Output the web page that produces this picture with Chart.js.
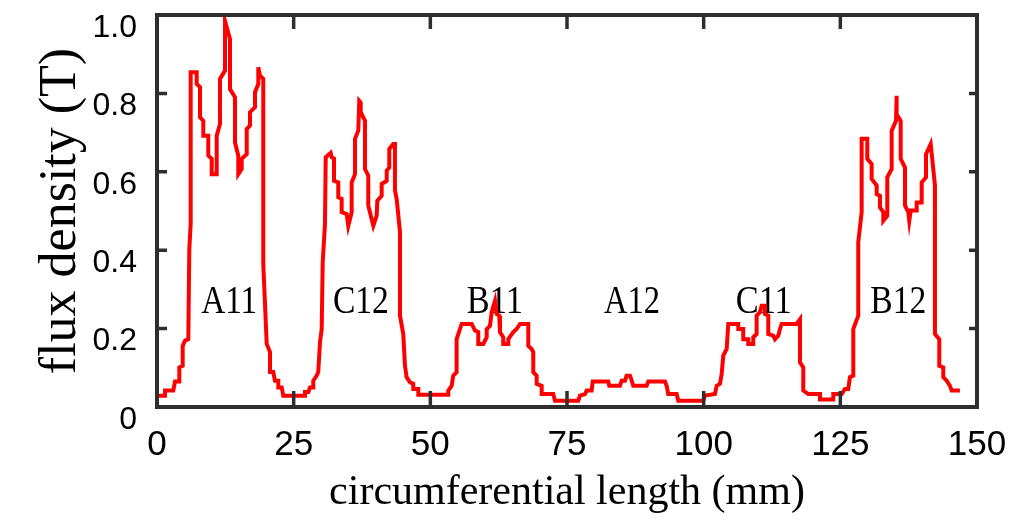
<!DOCTYPE html>
<html>
<head>
<meta charset="utf-8">
<script src="https://cdn.jsdelivr.net/npm/chart.js@4.4.0/dist/chart.umd.min.js"></script>
<style>
  html, body { margin: 0; padding: 0; background: #fff; }
  #wrap { width: 1023px; height: 527px; }
</style>
</head>
<body>
<div id="wrap"><canvas id="chart" width="1023" height="527"></canvas></div>
<script>
// circumferential position (mm) and flux density (T)
const lengthMm = [
  0, 1.46, 1.46, 2.98, 3.29, 4.08, 4.08, 4.70, 4.70, 5.12, 5.73, 5.91, 6.16, 6.16, 7.26, 7.26, 7.87, 7.87,
  8.47, 8.47, 9.38, 9.38, 10.01, 10.01, 10.92, 10.92, 11.52, 11.52, 12.44, 12.44, 13.35, 13.35, 14.27, 14.27,
  14.87, 14.87, 15.49, 15.49, 16.41, 16.41, 17.01, 17.01, 17.93, 17.93, 18.53, 18.53, 18.84, 19.44, 19.44,
  20.07, 20.67, 20.67, 21.27, 21.58, 22.19, 22.19, 22.81, 23.10, 27.07, 27.07, 27.68, 27.99, 28.59, 28.59,
  29.21, 29.50, 29.82, 30.13, 30.31, 30.73, 30.86, 31.77, 31.96, 32.38, 32.38, 33.16, 33.16, 33.78, 33.78,
  34.70, 34.99, 35.61, 35.61, 36.22, 36.22, 36.82, 37.00, 37.26, 37.26, 38.05, 38.05, 38.65, 38.65, 39.57,
  40.19, 40.30, 41.10, 41.10, 42.02, 42.02, 42.49, 42.49, 43.22, 43.53, 43.53, 43.84, 44.45, 44.45, 45.05,
  45.36, 45.66, 46.27, 46.88, 46.88, 47.80, 47.80, 53.28, 53.28, 53.90, 54.19, 54.81, 54.81, 55.73, 57.56,
  58.17, 58.77, 58.77, 59.69, 60.31, 60.31, 60.91, 61.22, 61.83, 62.14, 62.61, 62.74, 63.34, 63.34, 64.26,
  64.26, 65.17, 65.79, 66.40, 67.92, 67.92, 68.54, 68.83, 68.83, 69.45, 69.45, 70.37, 70.37, 72.49, 72.80,
  77.06, 77.37, 78.29, 78.60, 79.51, 79.70, 82.55, 82.73, 84.69, 85.00, 85.60, 85.91, 86.52, 86.83, 87.12,
  89.57, 89.87, 92.92, 93.23, 93.52, 95.06, 95.35, 99.93, 100.24, 102.07, 102.38, 102.98, 103.29, 103.59,
  104.21, 104.50, 106.33, 106.33, 107.24, 107.24, 108.16, 108.16, 109.07, 109.07, 109.69, 109.69, 110.30,
  110.61, 111.21, 111.21, 111.82, 111.82, 112.73, 113.04, 113.65, 113.96, 114.27, 117.01, 117.62, 117.62,
  118.22, 118.22, 119.14, 121.28, 121.28, 123.71, 123.71, 125.25, 125.85, 126.45, 126.76, 127.37, 127.37,
  128.28, 128.28, 128.90, 128.90, 129.93, 129.93, 130.73, 130.73, 131.65, 131.65, 132.25, 132.25, 132.86,
  132.86, 133.59, 133.59, 134.39, 134.39, 135.18, 135.30, 135.30, 136.04, 136.04, 136.83, 136.83, 137.43,
  137.61, 137.87, 138.97, 138.97, 139.88, 139.88, 140.67, 140.67, 141.53, 142.31, 142.31, 143.10, 143.10,
  143.83, 143.83, 144.45, 145.05, 145.36, 146.88
];
const fluxT = [
  0.029, 0.029, 0.042, 0.042, 0.065, 0.065, 0.101, 0.105, 0.156, 0.169, 0.173, 0.403, 0.467, 0.854, 0.854, 0.824, 0.816, 0.739,
  0.730, 0.692, 0.692, 0.641, 0.633, 0.594, 0.594, 0.692, 0.722, 0.837, 0.858, 0.985, 0.939, 0.811, 0.790, 0.675,
  0.641, 0.594, 0.607, 0.633, 0.645, 0.709, 0.718, 0.752, 0.765, 0.803, 0.824, 0.867, 0.845, 0.837, 0.365,
  0.161, 0.140, 0.089, 0.089, 0.067, 0.067, 0.050, 0.050, 0.029, 0.029, 0.038, 0.038, 0.050, 0.050, 0.067,
  0.080, 0.089, 0.166, 0.199, 0.369, 0.467, 0.637, 0.648, 0.637, 0.634, 0.577, 0.573, 0.535, 0.531, 0.497,
  0.492, 0.462, 0.497, 0.573, 0.594, 0.684, 0.705, 0.781, 0.777, 0.752, 0.730, 0.607, 0.590, 0.514, 0.462,
  0.488, 0.526, 0.539, 0.569, 0.577, 0.603, 0.611, 0.658, 0.671, 0.671, 0.552, 0.531, 0.446, 0.233, 0.186,
  0.105, 0.076, 0.063, 0.059, 0.046, 0.046, 0.031, 0.031, 0.042, 0.054, 0.080, 0.089, 0.173, 0.212, 0.212,
  0.195, 0.191, 0.161, 0.161, 0.178, 0.199, 0.207, 0.242, 0.271, 0.237, 0.233, 0.191, 0.178, 0.161, 0.161,
  0.173, 0.191, 0.199, 0.212, 0.212, 0.156, 0.148, 0.140, 0.089, 0.080, 0.059, 0.054, 0.033, 0.033, 0.016,
  0.016, 0.029, 0.033, 0.042, 0.042, 0.065, 0.065, 0.054, 0.054, 0.067, 0.067, 0.080, 0.080, 0.067, 0.054,
  0.054, 0.065, 0.065, 0.054, 0.033, 0.033, 0.016, 0.016, 0.029, 0.033, 0.054, 0.059, 0.084, 0.131,
  0.148, 0.212, 0.212, 0.199, 0.199, 0.173, 0.173, 0.161, 0.161, 0.178, 0.186, 0.233, 0.242,
  0.258, 0.258, 0.237, 0.233, 0.186, 0.182, 0.173, 0.182, 0.199, 0.212, 0.212, 0.224, 0.114,
  0.101, 0.042, 0.033, 0.033, 0.019, 0.019, 0.033, 0.033, 0.046, 0.046, 0.076, 0.080, 0.199,
  0.233, 0.420, 0.497, 0.684, 0.684, 0.633, 0.620, 0.582, 0.565, 0.543, 0.539, 0.509, 0.497,
  0.475, 0.488, 0.586, 0.607, 0.705, 0.730, 0.794, 0.747, 0.730, 0.633, 0.611, 0.514, 0.497,
  0.475, 0.501, 0.501, 0.522, 0.522, 0.573, 0.586, 0.645, 0.671, 0.565, 0.186, 0.173, 0.105,
  0.101, 0.076, 0.067, 0.054, 0.042, 0.042
];

const xTicks = [0, 25, 50, 75, 100, 125, 150];
const yTicks = [0, 0.2, 0.4, 0.6, 0.8, 1.0];

// coil region labels (position in mm, height in T)
const coilNames = ["A11", "C12", "B11", "A12", "C11", "B12"];
const coilX     = [13.2, 37.3, 61.8, 86.9, 111.0, 135.6];
const coilY     = 0.24;

const AXIS = "#2e2e2e";

// ── Frame + inward ticks ─────────────────────────────────────────────────────
const framePlugin = {
  id: "frame",
  afterDatasetsDraw(chart) {
    const { ctx, chartArea: a, scales: { x, y } } = chart;
    ctx.save();
    ctx.strokeStyle = AXIS;
    ctx.lineWidth = 3.5;
    ctx.beginPath();
    for (const v of xTicks.slice(1, -1)) {
      const px = x.getPixelForValue(v);
      ctx.moveTo(px, a.bottom); ctx.lineTo(px, a.bottom - 16);
      ctx.moveTo(px, a.top);    ctx.lineTo(px, a.top + 14);
    }
    for (const v of yTicks.slice(1, -1)) {
      const py = y.getPixelForValue(v);
      ctx.moveTo(a.left, py);  ctx.lineTo(a.left + 10, py);
      ctx.moveTo(a.right, py); ctx.lineTo(a.right - 8, py);
    }
    ctx.stroke();
    ctx.lineWidth = 4;
    ctx.lineJoin = "miter";
    ctx.strokeRect(a.left, a.top, a.right - a.left, a.bottom - a.top);
    ctx.restore();
  }
};

const coilLabelPlugin = {
  id: "coilLabels",
  beforeDatasetsDraw(chart) {
    const { ctx, scales: { x, y } } = chart;
    ctx.save();
    ctx.fillStyle = "#000";
    ctx.font = '40px "Liberation Serif", "Times New Roman", serif';
    ctx.textAlign = "center";
    ctx.textBaseline = "alphabetic";
    coilNames.forEach((name, i) => {
      ctx.fillText(name, x.getPixelForValue(coilX[i]), y.getPixelForValue(coilY), 56);
    });
    ctx.restore();
  }
};

new Chart(document.getElementById("chart"), {
  type: "line",
  data: {
    datasets: [{
      data: lengthMm.map((v, i) => ({ x: v, y: fluxT[i] })),
      borderColor: "#ff0000",
      borderWidth: 4,
      pointRadius: 0,
      tension: 0,
      fill: false
    }]
  },
  options: {
    responsive: false,
    animation: false,
    devicePixelRatio: 1,
    layout: { padding: { top: 15, right: 46, left: 0, bottom: 0 } },
    plugins: { legend: { display: false }, tooltip: { enabled: false } },
    scales: {
      x: {
        type: "linear",
        min: 0, max: 150,
        afterBuildTicks: (s) => { s.ticks = xTicks.map((v) => ({ value: v })); },
        afterFit: (s) => { s.height = 120; s.paddingLeft = 0; s.paddingRight = 0; },
        grid: { display: false, drawTicks: false },
        border: { display: false },
        ticks: {
          color: "#000",
          padding: 17,
          font: { family: '"Liberation Sans", Arial, sans-serif', size: 35 },
          maxRotation: 0,
          callback: (v) => String(v)
        },
        title: {
          display: true,
          text: "circumferential length (mm)",
          color: "#000",
          font: { family: '"Liberation Serif", "Times New Roman", serif', size: 42, lineHeight: 1 },
          padding: { top: 0, bottom: 13 }
        }
      },
      y: {
        min: 0, max: 1.0,
        afterBuildTicks: (s) => { s.ticks = yTicks.map((v) => ({ value: v })); },
        afterFit: (s) => { s.width = 157; s.paddingTop = 0; s.paddingBottom = 0; },
        grid: { display: false, drawTicks: false },
        border: { display: false },
        ticks: {
          color: "#000",
          padding: 20,
          labelOffset: 13,
          font: { family: '"Liberation Sans", Arial, sans-serif', size: 32 },
          callback: (v) => (v === 0 ? "0" : v.toFixed(1))
        },
        title: {
          display: true,
          text: "flux density (T)",
          color: "#000",
          font: { family: '"Liberation Serif", "Times New Roman", serif', size: 52, lineHeight: 1 },
          padding: { top: 35, bottom: 0 }
        }
      }
    }
  },
  plugins: [coilLabelPlugin, framePlugin]
});
</script>
</body>
</html>
